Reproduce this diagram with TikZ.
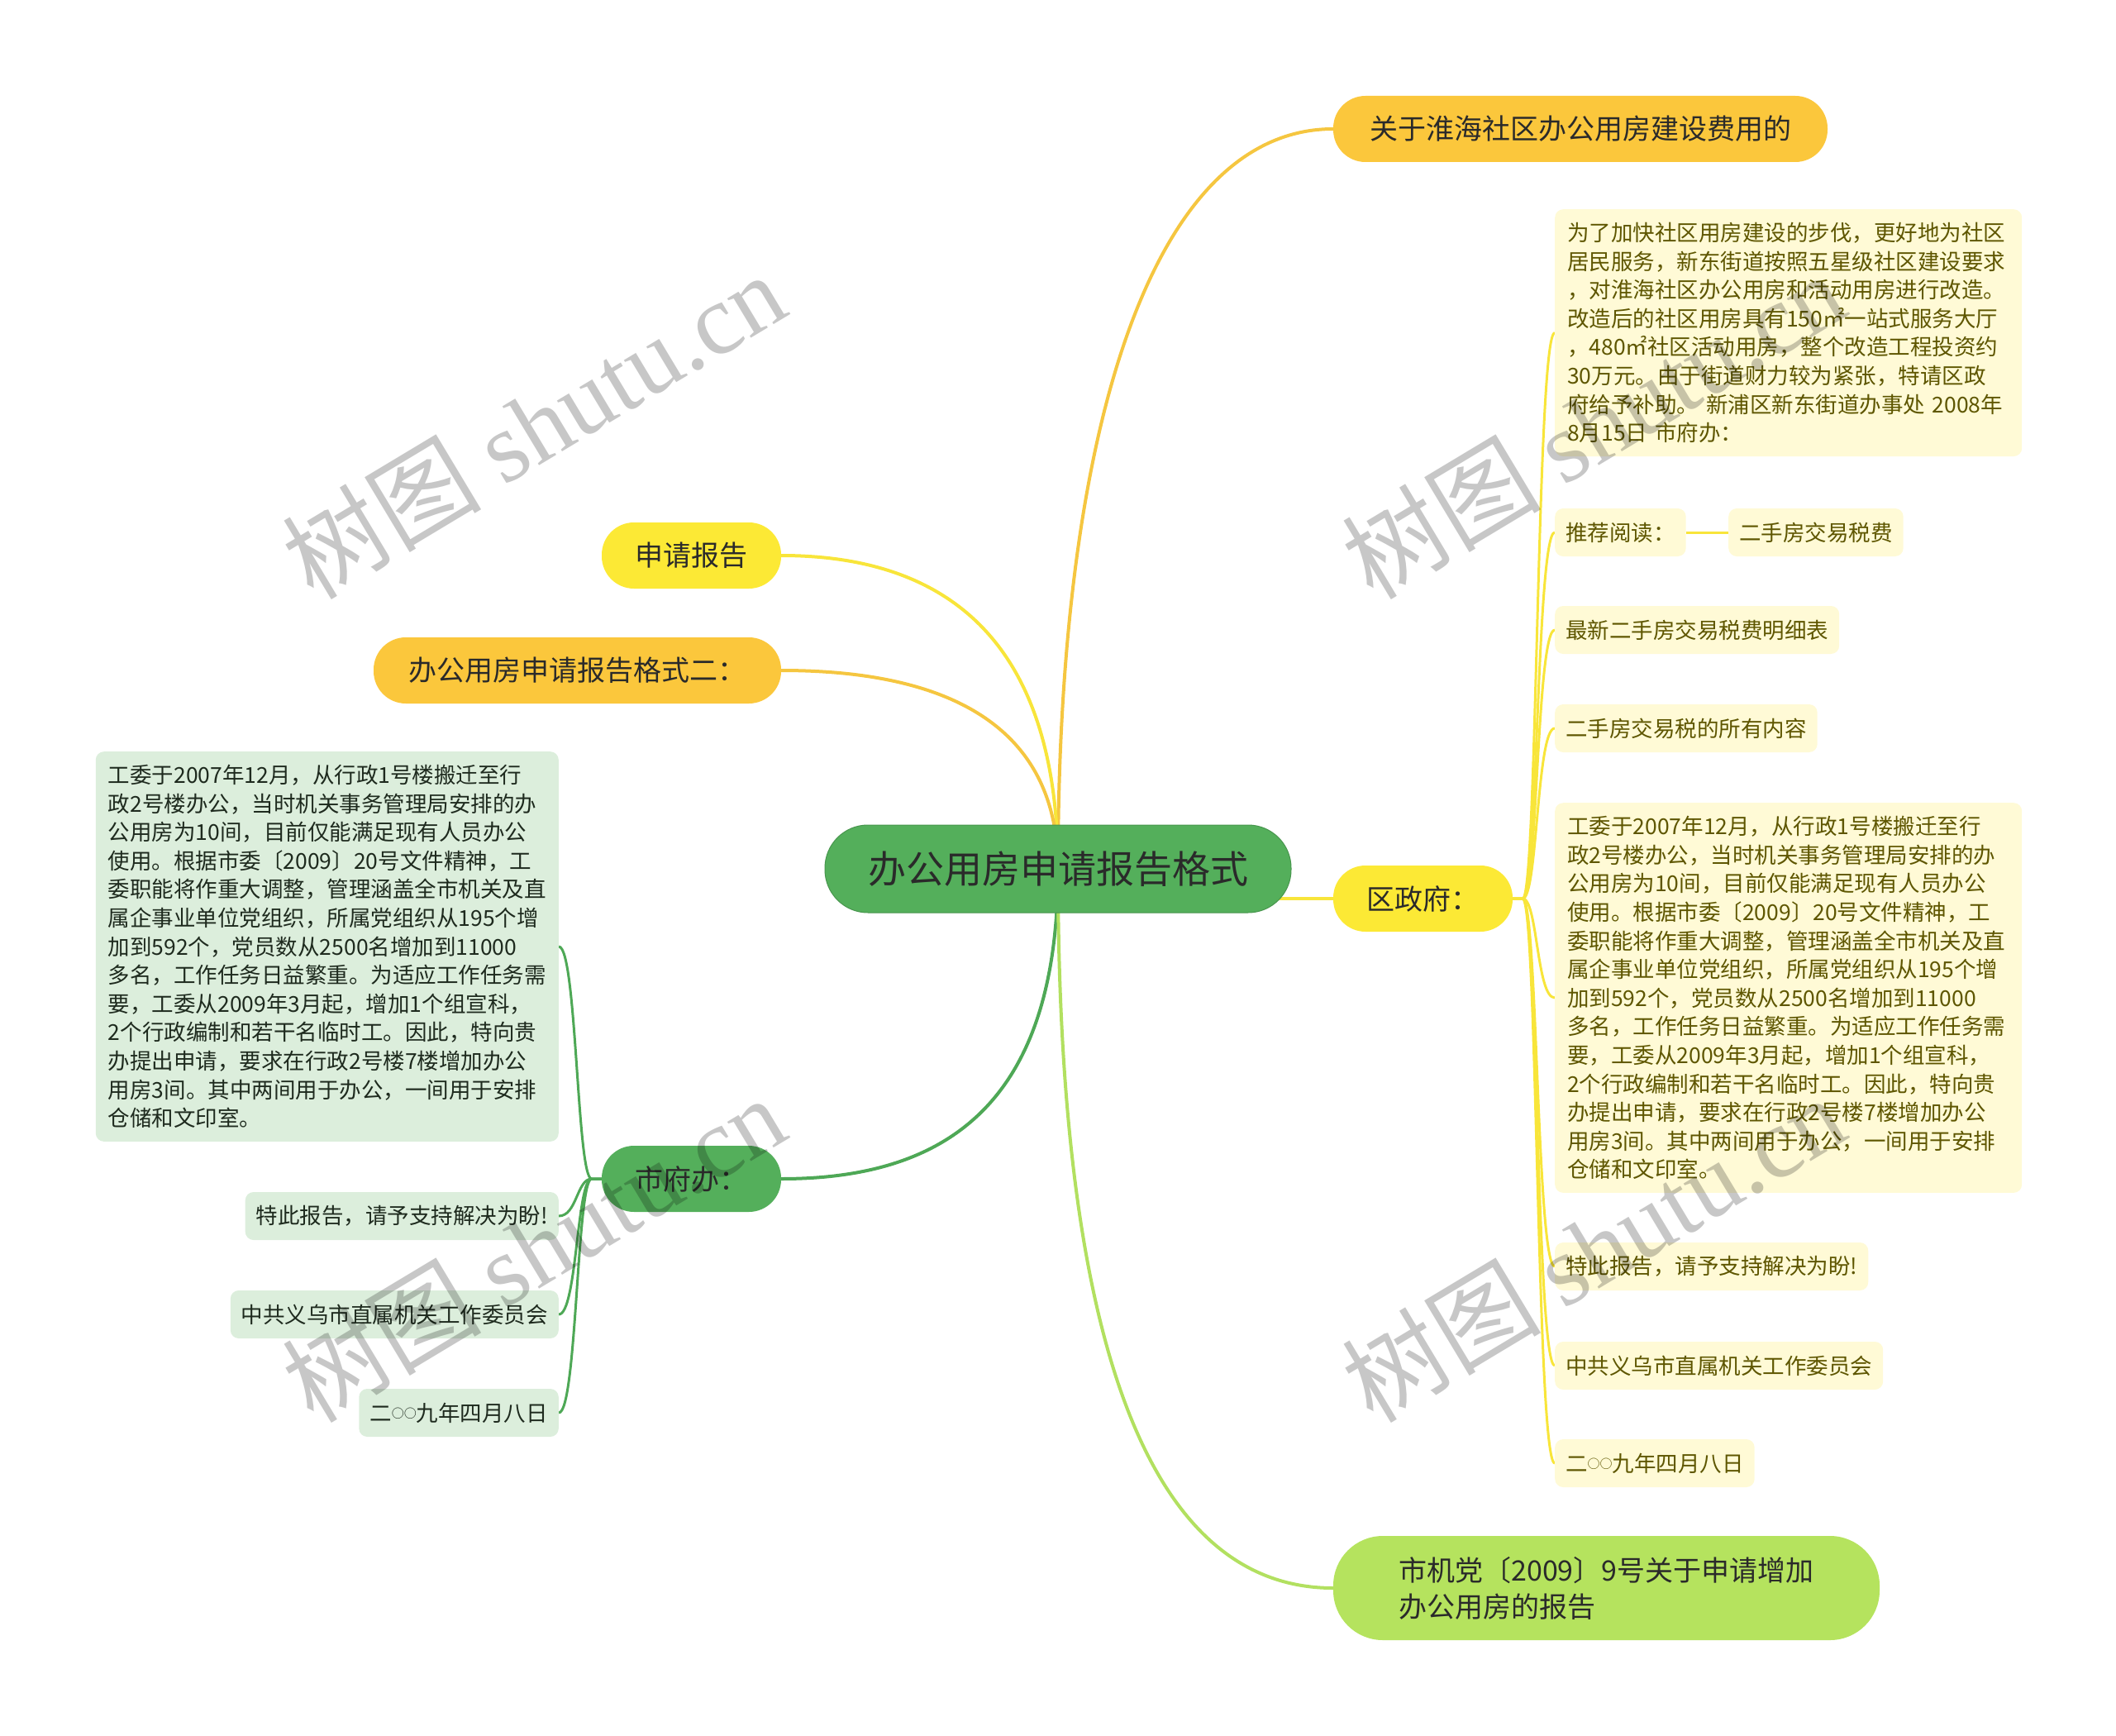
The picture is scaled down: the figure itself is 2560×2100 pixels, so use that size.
\documentclass[tikz,border=0pt]{standalone}
\usepackage{fontspec}
\setmainfont{Noto Sans CJK SC}
\newfontfamily\wmserif{Liberation Serif}
\usetikzlibrary{backgrounds}
\definecolor{cgreen}{HTML}{54AF5B}
\definecolor{cgreenline}{HTML}{4EA856}
\definecolor{corange}{HTML}{FBC73C}
\definecolor{corangeline}{HTML}{F5C640}
\definecolor{cyellow}{HTML}{FCE935}
\definecolor{cyellowline}{HTML}{F8E53A}
\definecolor{clgreen}{HTML}{B5E35E}
\definecolor{clgreenline}{HTML}{B2E060}
\definecolor{ypale}{HTML}{FFFAD6}
\definecolor{gpale}{HTML}{DCEEDC}
\definecolor{olivetext}{HTML}{5E5600}
\definecolor{gtext}{HTML}{1E2A1E}
\definecolor{maintext}{HTML}{2A2A2A}
\tikzset{
  mainnode/.style={rounded corners=39pt, minimum height=80pt, inner sep=0pt, text=maintext,
    font=\fontsize{34}{44}\selectfont},
  rchild/.style={fill=ypale, text=olivetext, rounded corners=10pt, minimum height=58pt,
    inner xsep=13pt, inner ysep=0pt, anchor=west, font=\fontsize{26.5}{34.6}\selectfont},
  rbox/.style={fill=ypale, text=olivetext, rounded corners=10pt, anchor=north west, align=left,
    text width=535pt, inner xsep=15pt, inner ysep=16pt, font=\fontsize{26.5}{34.6}\selectfont},
  lchild/.style={fill=gpale, text=gtext, rounded corners=10pt, minimum height=58pt,
    inner xsep=13pt, inner ysep=0pt, anchor=east, font=\fontsize{26.5}{34.6}\selectfont},
  lbox/.style={fill=gpale, text=gtext, rounded corners=10pt, anchor=north east, align=left,
    text width=530pt, inner xsep=15pt, inner ysep=16pt, font=\fontsize{26.5}{34.6}\selectfont},
  mainline/.style={line width=4pt},
  ybr/.style={line width=3pt, draw=cyellowline},
  gbr/.style={line width=3pt, draw=cgreenline},
  wm/.style={rotate=31, text=black, text opacity=0.22, inner sep=0pt,
    font=\fontsize{121}{121}\selectfont}
}
\newcommand{\smallcirc}{\raisebox{4pt}{\fontsize{15}{15}\selectfont ○○}}
\begin{document}
\begin{tikzpicture}[x=1pt, y=-1pt]
\useasboundingbox (0,0) rectangle (2560,2100);

% central and main nodes
\node[mainnode, fill=cgreen, draw=cgreen!85!black, line width=1pt, minimum width=564pt, minimum height=106pt,
      rounded corners=52pt, font=\fontsize{46}{50}\selectfont] (c) at (1280,1051) {办公用房申请报告格式};
\node[mainnode, fill=corange, minimum width=598pt] (tr) at (1912,156) {关于淮海社区办公用房建设费用的};
\node[mainnode, fill=cyellow, minimum width=217pt] (sq) at (836.5,672) {申请报告};
\node[mainnode, fill=corange, minimum width=493pt] (gs) at (698.5,811) {办公用房申请报告格式二：};
\node[mainnode, fill=cyellow, minimum width=217pt] (qzf) at (1721.5,1087) {区政府：};
\node[mainnode, fill=cgreen, minimum width=217pt] (sfb) at (836.5,1426) {市府办：};
\node[mainnode, fill=clgreen, minimum width=661pt, minimum height=126pt, rounded corners=60pt, align=left]
      (bt) at (1943.5,1921) {市机党〔2009〕9号关于申请增加\\办公用房的报告};

% right children
\node[rbox] (r1) at (1881,253) {为了加快社区用房建设的步伐，更好地为社区\\
居民服务，新东街道按照五星级社区建设要求\\
，对淮海社区办公用房和活动用房进行改造。\\
改造后的社区用房具有150㎡一站式服务大厅\\
，480㎡社区活动用房，整个改造工程投资约\\
30万元。由于街道财力较为紧张，特请区政\\
府给予补助。 新浦区新东街道办事处 2008年\\
8月15日 市府办：};
\node[rchild] (r2) at (1881,644) {推荐阅读：};
\node[rchild] (r2b) at (2091,644) {二手房交易税费};
\node[rchild] (r3) at (1881,762) {最新二手房交易税费明细表};
\node[rchild] (r4) at (1881,881) {二手房交易税的所有内容};
\node[rbox] (r5) at (1881,971) {工委于2007年12月，从行政1号楼搬迁至行\\
政2号楼办公，当时机关事务管理局安排的办\\
公用房为10间，目前仅能满足现有人员办公\\
使用。根据市委〔2009〕20号文件精神，工\\
委职能将作重大调整，管理涵盖全市机关及直\\
属企事业单位党组织，所属党组织从195个增\\
加到592个，党员数从2500名增加到11000\\
多名，工作任务日益繁重。为适应工作任务需\\
要，工委从2009年3月起，增加1个组宣科，\\
2个行政编制和若干名临时工。因此，特向贵\\
办提出申请，要求在行政2号楼7楼增加办公\\
用房3间。其中两间用于办公，一间用于安排\\
仓储和文印室。};
\node[rchild] (r6) at (1881,1532) {特此报告，请予支持解决为盼!};
\node[rchild] (r7) at (1881,1652) {中共义乌市直属机关工作委员会};
\node[rchild] (r8) at (1881,1770) {二\smallcirc 九年四月八日};

% left children
\node[lbox] (l1) at (676,909) {工委于2007年12月，从行政1号楼搬迁至行\\
政2号楼办公，当时机关事务管理局安排的办\\
公用房为10间，目前仅能满足现有人员办公\\
使用。根据市委〔2009〕20号文件精神，工\\
委职能将作重大调整，管理涵盖全市机关及直\\
属企事业单位党组织，所属党组织从195个增\\
加到592个，党员数从2500名增加到11000\\
多名，工作任务日益繁重。为适应工作任务需\\
要，工委从2009年3月起，增加1个组宣科，\\
2个行政编制和若干名临时工。因此，特向贵\\
办提出申请，要求在行政2号楼7楼增加办公\\
用房3间。其中两间用于办公，一间用于安排\\
仓储和文印室。};
\node[lchild] (l2) at (676,1471) {特此报告，请予支持解决为盼!};
\node[lchild] (l3) at (676,1590) {中共义乌市直属机关工作委员会};
\node[lchild] (l4) at (676,1709) {二\smallcirc 九年四月八日};

% connectors
\begin{scope}[on background layer]
\draw[mainline, corangeline] (c.center) .. controls (1280,500) and (1400,156) .. (tr.west);
\draw[mainline, cyellowline] (c.center) .. controls (1280,760) and (1130,672) .. (sq.east);
\draw[mainline, corangeline] (c.center) .. controls (1280,880) and (1150,811) .. (gs.east);
\draw[mainline, cgreenline] (c.center) .. controls (1280,1330) and (1150,1426) .. (sfb.east);
\draw[mainline, clgreenline] (c.center) .. controls (1280,1700) and (1420,1921) .. (bt.west);
\draw[mainline, cyellowline] (c.center |- qzf.west) -- (qzf.west);
\foreach \n in {r1,r2,r3,r4,r5,r6,r7,r8}
  \draw[ybr] (qzf.east) -- ++(12,0) .. controls +(18,0) and +(-22,0) .. (\n.west);
\draw[ybr] (r2.east) -- (r2b.west);
\foreach \n in {l1,l2,l3,l4}
  \draw[gbr] (sfb.west) -- ++(-12,0) .. controls +(-18,0) and +(22,0) .. (\n.east);
\end{scope}

% watermarks
\node[wm] (w1) at (645,514) {树图 {\wmserif shutu.cn}};
\node[wm] (w2) at (1927,514) {树图 {\wmserif shutu.cn}};
\node[wm] (w3) at (645,1510) {树图 {\wmserif shutu.cn}};
\node[wm] (w4) at (1927,1510) {树图 {\wmserif shutu.cn}};
\end{tikzpicture}
\end{document}
